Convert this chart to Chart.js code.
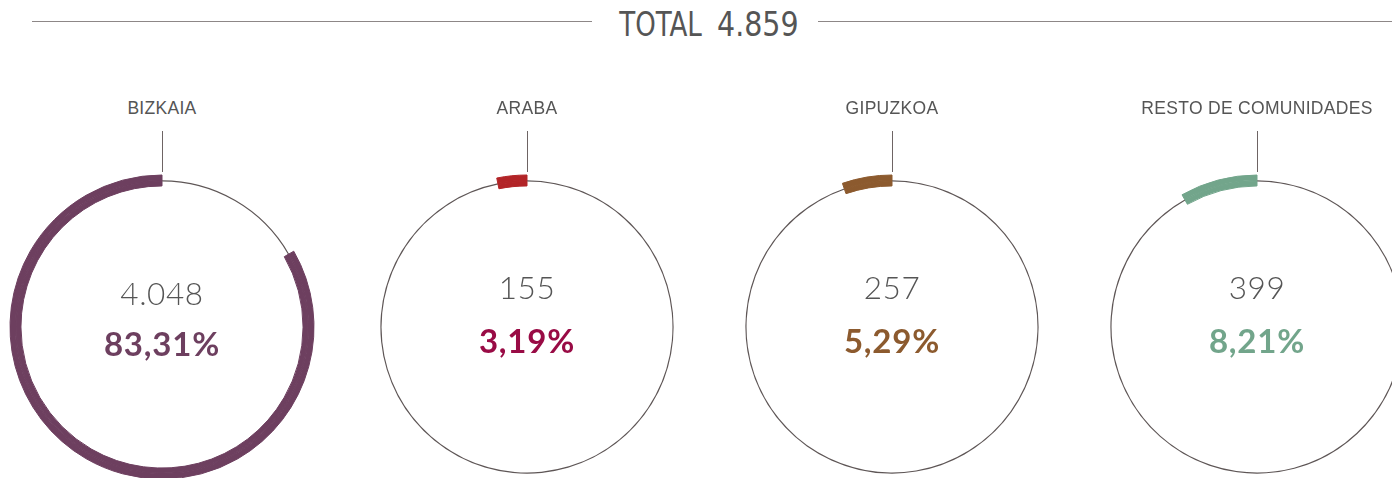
<!DOCTYPE html>
<html>
<head>
<meta charset="utf-8">
<script src="https://cdn.jsdelivr.net/npm/chart.js@4.4.1/dist/chart.umd.min.js"></script>
<style>
  html, body { margin: 0; padding: 0; }
  body { width: 1392px; height: 478px; overflow: hidden; background: #fff; position: relative; font-family: 'Lato', 'Liberation Sans', sans-serif; }
  .rule { position: absolute; top: 21px; height: 1px; background: #8d8787; }
  #title { position: absolute; top: 5px; left: 592px; width: 226px; text-align: center; font-family: 'Liberation Sans Narrow', 'DejaVu Sans Condensed', sans-serif; font-size: 33px; color: #555; white-space: nowrap; }
  #title span { display: inline-block; transform: scaleX(0.88); transform-origin: right center; }
  #title b { display: inline-block; font-weight: normal; margin-left: 16px; transform: scaleX(0.96); transform-origin: left center; }
  .panel { position: absolute; top: 0; width: 400px; height: 478px; }
  .panel .label { position: absolute; top: 98px; left: 0; width: 400px; text-align: center; font-family: 'Liberation Sans', sans-serif; font-size: 17.5px; color: #555; letter-spacing: 0.3px; }
  .panel .tick { position: absolute; left: 200px; top: 131px; width: 1px; height: 41px; background: #6e6464; }
  .panel canvas { position: absolute; left: 40px; top: 167px; }
  .panel .count { position: absolute; top: 268px; left: 0; width: 400px; text-align: center; font-size: 31.5px; font-weight: 300; color: #555; letter-spacing: 0.6px; }
  .panel .pct { position: absolute; top: 320px; left: 0; width: 400px; text-align: center; font-size: 33px; font-weight: bold; letter-spacing: 0.8px; }
  .panel.first .count { top: 274px; }
  .panel.first .pct { top: 323px; }
</style>
</head>
<body>
<div class="rule" style="left:32px;width:560px"></div>
<div class="rule" style="left:818px;width:574px"></div>
<div id="title"></div>

<script>
const regions = ['BIZKAIA', 'ARABA', 'GIPUZKOA', 'RESTO DE COMUNIDADES'];
const counts = [4048, 155, 257, 399];
const colors = ['#6d3f5f', '#b22427', '#8c5a2e', '#72a58b'];
const textColors = ['#6d3f5f', '#990b45', '#8c5a2e', '#72a58b'];
const centers = [162, 527, 892, 1257];

const total = counts.reduce((a, b) => a + b, 0);
const lineColor = '#5e5656';

function fmtThousands(n) {
  return String(n).replace(/\B(?=(\d{3})+(?!\d))/g, '.');
}

document.getElementById('title').innerHTML = '<span>TOTAL</span><b>' + fmtThousands(total) + '</b>';

regions.forEach((name, i) => {
  const panel = document.createElement('div');
  panel.className = 'panel' + (i === 0 ? ' first' : '');
  panel.style.left = (centers[i] - 200) + 'px';
  const pct = (counts[i] / total * 100).toFixed(2).replace('.', ',') + '%';
  panel.innerHTML =
    '<div class="label">' + name + '</div>' +
    '<div class="tick"></div>' +
    '<canvas width="320" height="320"></canvas>' +
    '<div class="count">' + fmtThousands(counts[i]) + '</div>' +
    '<div class="pct" style="color:' + textColors[i] + '">' + pct + '</div>';
  document.body.appendChild(panel);

  const rest = total - counts[i];
  const c = colors[i];
  // three stacked rings: outer half of the arc, thin full circle, inner half of the arc
  new Chart(panel.querySelector('canvas').getContext('2d'), {
    type: 'doughnut',
    data: {
      labels: ['rest', name],
      datasets: [
        { data: [rest, counts[i]], backgroundColor: ['rgba(0,0,0,0)', c], borderColor: ['rgba(0,0,0,0)', c], borderWidth: [0, 1], weight: 5.5 },
        { data: [rest, counts[i]], backgroundColor: [lineColor, c], borderColor: ['rgba(0,0,0,0)', c], borderWidth: [0, 1], weight: 1.2 },
        { data: [rest, counts[i]], backgroundColor: ['rgba(0,0,0,0)', c], borderColor: ['rgba(0,0,0,0)', c], borderWidth: [0, 1], weight: 4.5 }
      ]
    },
    options: {
      responsive: false,
      animation: false,
      events: [],
      radius: 152,
      cutout: '92.8%',
      rotation: 0,
      layout: { padding: 0 },
      plugins: {
        legend: { display: false },
        tooltip: { enabled: false }
      }
    }
  });
});
</script>
</body>
</html>
